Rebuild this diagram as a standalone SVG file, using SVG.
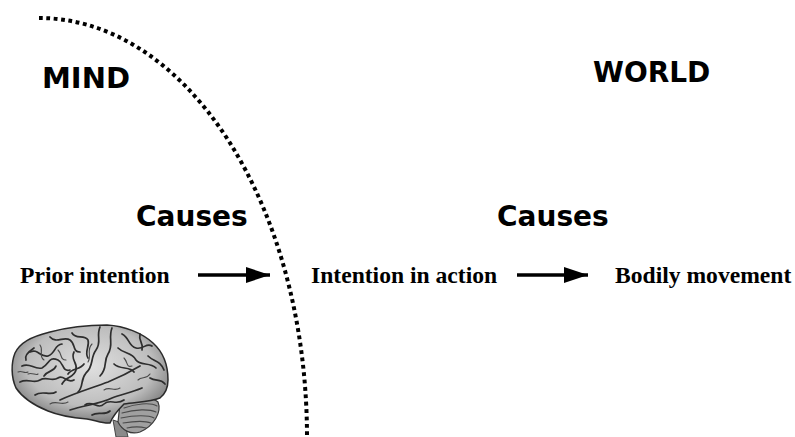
<svg xmlns="http://www.w3.org/2000/svg" width="795" height="437" viewBox="0 0 795 437">
<defs>
<style>
.hd{font-family:"DejaVu Sans",Verdana,sans-serif;font-weight:bold;font-size:28px;fill:#000}
.lb{font-family:"Liberation Serif","Times New Roman",serif;font-weight:bold;font-size:23.6px;fill:#000}
.arr{stroke:#000;stroke-width:3.6;fill:none}
.gy{fill:none;stroke:#2e2e2e;stroke-width:1.7;stroke-linecap:round;stroke-linejoin:round}
.gy2{fill:none;stroke:#4a4a4a;stroke-width:1.1;stroke-linecap:round}
</style>
<marker id="ah" viewBox="0 0 24 16" refX="24" refY="8" markerWidth="24" markerHeight="16" markerUnits="userSpaceOnUse" orient="auto">
<path d="M0,0 L24,8 L0,16 Z" fill="#000"/>
</marker>
<radialGradient id="bg" cx="0.5" cy="0.42" r="0.62">
<stop offset="0" stop-color="#e0e0e0"/>
<stop offset="0.65" stop-color="#bdbdbd"/>
<stop offset="1" stop-color="#6e6e6e"/>
</radialGradient>
</defs>
<rect width="795" height="437" fill="#fff"/>

<g id="boundary">
<path d="M39,18 A268,419 0 0 1 307,437" fill="none" stroke="#000" stroke-width="4" stroke-dasharray="3.8 3.6"/>
</g>

<g id="mind"><text class="hd" x="42" y="88" style="font-size:29px">MIND</text></g>
<g id="world"><text class="hd" x="593" y="82">WORLD</text></g>
<g id="causes1"><text class="hd" x="136" y="226">Causes</text></g>
<g id="causes2"><text class="hd" x="497" y="226">Causes</text></g>

<g id="prior"><text class="lb" x="20" y="283">Prior intention</text></g>
<g id="intention"><text class="lb" x="311" y="283">Intention in action</text></g>
<g id="bodily"><text class="lb" x="615" y="283">Bodily movement</text></g>

<g id="connectors">
<line class="arr" x1="198" y1="275" x2="270" y2="275" marker-end="url(#ah)"/>
<line class="arr" x1="517" y1="275" x2="588" y2="275" marker-end="url(#ah)"/>
</g>

<g id="brain">
<path d="M113,420 L116,437 L128,437 L125,424 Z" fill="#8a8a8a" stroke="#444" stroke-width="1"/>
<path d="M120,404 C132,398 152,396 158,402 C162,412 154,426 140,432 C130,435 122,430 118,422 Z" fill="#a0a0a0" stroke="#3a3a3a" stroke-width="1.2"/>
<path class="gy2" d="M124,408 C135,404 150,402 157,406 M122,413 C135,409 150,409 156,412 M121,418 C135,415 149,415 154,418 M123,423 C135,421 146,421 151,423 M127,428 C136,426 142,427 146,428"/>
<path d="M15,353 C20,343 30,337 50,332 C65,328 85,325 107,325 C125,326 142,333 153,343 C163,352 168,366 168,380 C168,388 165,394 160,398 C150,402 136,402 124,404 C118,410 112,418 110,423 C103,424 95,420 87,419 C75,418 60,416 48,411 C33,405 22,397 16,388 C11,377 11,363 15,353 Z" fill="url(#bg)" stroke="#2a2a2a" stroke-width="1.5"/>
<path class="gy" d="M100,327 C96,336 102,342 96,350 C90,358 94,366 86,373 C80,380 84,386 78,392"/>
<path class="gy" d="M112,328 C108,338 114,345 108,354 C103,362 108,368 100,376"/>
<path class="gy" d="M60,400 C75,393 92,388 108,382 C120,377 130,372 140,366"/>
<path class="gy" d="M70,410 C85,405 100,404 112,398 C122,394 130,393 142,388"/>
<path class="gy" d="M30,352 C38,348 40,358 48,356 C56,353 54,345 62,344 M22,366 C30,362 34,370 42,368 C50,364 48,356 58,360 C64,363 62,372 70,370"/>
<path class="gy" d="M20,382 C28,378 34,384 40,380 C46,376 52,382 58,378 C64,374 66,384 74,380"/>
<path class="gy" d="M35,395 C42,390 50,396 56,392 M50,337 C56,344 64,336 70,340 C76,344 72,352 80,352"/>
<path class="gy" d="M72,333 C76,340 84,334 88,340 C90,346 84,352 88,358 M62,384 C66,376 74,378 76,370 C78,362 70,360 74,352"/>
<path class="gy" d="M122,334 C130,338 128,346 136,348 C144,350 146,342 152,346 M118,348 C124,354 132,352 136,360 C140,366 150,362 156,368"/>
<path class="gy" d="M114,364 C120,370 130,366 134,372 M148,356 C154,362 160,360 164,370 M150,378 C156,382 160,378 165,384"/>
<path class="gy" d="M85,405 C92,400 98,410 104,404 C110,398 116,406 124,400 M92,415 C98,411 104,416 110,411"/>
<path class="gy" d="M26,360 C24,356 28,352 34,348 M44,376 C48,370 54,372 56,366 M84,364 C80,370 72,368 68,374 M140,334 C138,342 144,342 142,350"/>
<path class="gy2" d="M40,345 C44,350 38,356 44,360 M28,374 C32,372 36,376 38,374 M92,344 C86,350 92,356 88,362 M104,390 C110,386 114,392 120,388 M138,380 C142,376 146,380 150,374 M124,358 C128,362 126,368 132,366 M50,404 C56,400 62,406 68,402 M18,372 C22,370 24,374 28,372 M58,350 C62,354 60,360 66,360"/>
</g>
</svg>
